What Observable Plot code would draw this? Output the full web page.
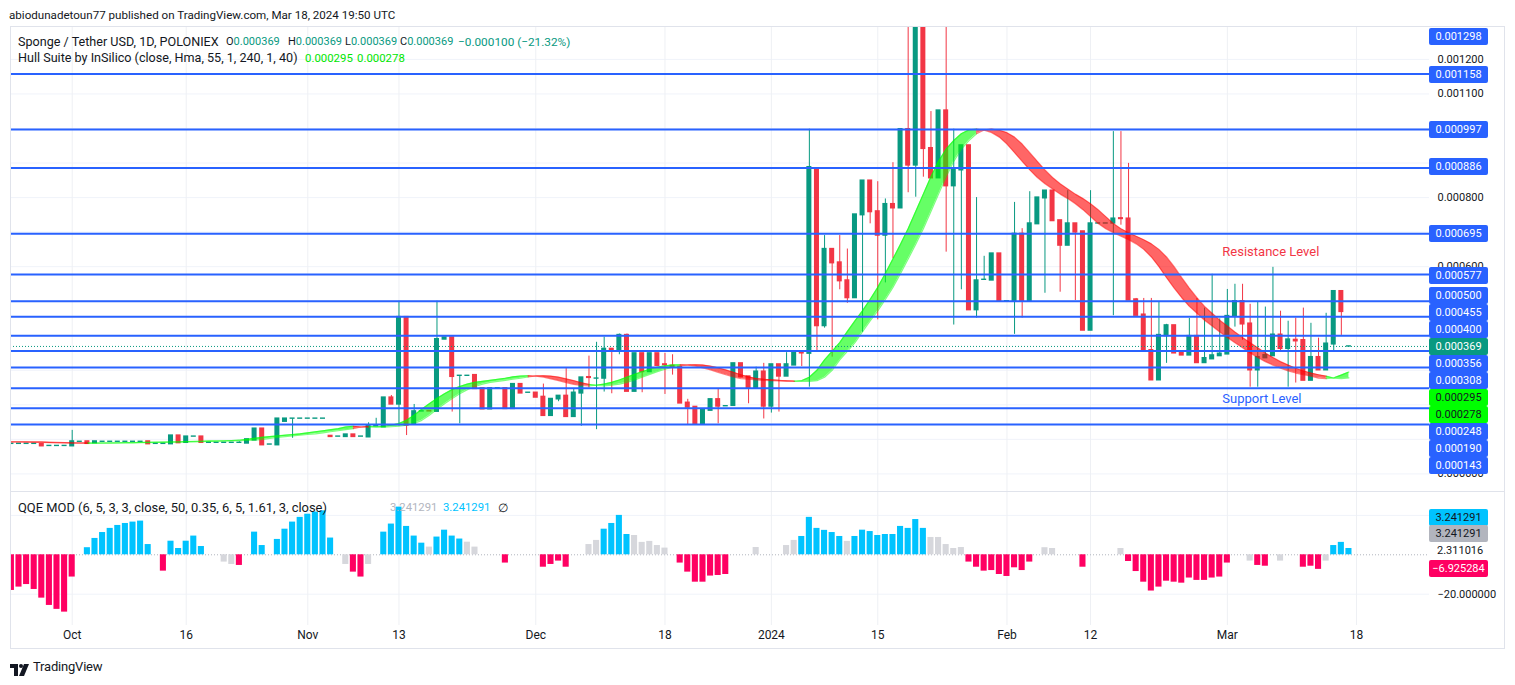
<!DOCTYPE html>
<html><head><meta charset="utf-8">
<script src="https://cdn.jsdelivr.net/npm/d3@7"></script>
<script src="https://cdn.jsdelivr.net/npm/@observablehq/plot@0.6"></script>
<style>
html,body{margin:0;padding:0;background:#fff;}
#root{position:relative;width:1515px;height:685px;overflow:hidden;font-family:Roboto,"Liberation Sans",Arial,sans-serif;color:#131722;background:#fff;}
.t{position:absolute;white-space:nowrap;height:16px;line-height:16px;}
.box{position:absolute;left:1429px;width:59px;height:17px;line-height:17px;font-size:11px;text-align:center;border-radius:2px;white-space:nowrap;}
</style></head><body><div id="root"></div>
<script>
// ---------------- DATA ----------------
const startDate = "2023-09-23";          // first daily candle
const U = 1e-6;                           // arrays below are in millionths of USDT

const openU = [
 87,87,87,87,86,81,81,81,80,93,
 94,89,93,93,93,93,93,93,94,87,
 87,86,111,90,108,108,90,90,90,90,
 90,88,97,131,85,83,151,160,160,160,
 160,160,110,108,107,114,108,106,138,135,
 221,201,454,143,181,182,180,389,395,284,
 284,286,248,187,248,248,188,260,235,235,
 223,168,216,226,165,233,280,276,276,362,
 354,402,238,349,295,349,317,313,310,206,
 194,145,183,216,196,197,320,282,249,296,
 195,317,282,314,351,348,885,428,651,612,
 560,509,749,849,760,690,781,769,998,893,
 1360,943,856,1052,833,879,951,474,562,560,
 638,500,499,695,499,723,798,820,734,661,
 725,702,415,725,725,725,740,739,505,461,
 358,271,399,430,350,343,399,321,332,341,
 346,455,500,435,300,335,341,403,362,388,
 387,270,338,300,375,529,369];
const highU = [
 87,87,87,87,86,81,81,81,126,93,
 94,94,93,93,93,93,93,93,94,87,
 87,111,111,108,108,108,90,90,90,90,
 93,100,131,131,85,160,160,160,160,160,
 160,160,110,108,114,114,108,148,161,221,
 227,500,454,201,181,182,500,395,395,284,
 284,286,248,248,248,248,260,260,235,235,
 260,217,226,305,245,279,341,381,396,362,
 405,405,349,349,349,349,349,345,310,216,
 194,187,216,245,196,320,320,282,309,320,
 317,317,351,351,351,998,885,690,651,690,
 651,751,849,849,846,796,901,998,1400,1500,
 1450,1049,1052,1320,998,951,951,800,630,638,
 638,500,786,710,817,800,820,820,734,820,
 725,702,820,725,725,991,991,899,508,508,
 508,499,433,430,350,450,508,480,578,449,
 534,549,549,491,497,483,598,471,442,451,
 480,436,393,465,529,531,369];
const lowU = [
 87,87,87,87,80,81,81,81,80,93,
 87,89,93,93,93,93,93,93,86,87,
 87,86,89,90,108,90,90,90,90,90,
 90,88,97,83,85,83,151,103,160,160,
 160,160,107,108,107,107,108,106,138,135,
 201,138,111,143,181,181,180,389,179,145,
 284,246,187,187,248,188,188,233,235,221,
 168,168,209,165,165,138,248,128,237,232,
 345,238,238,235,295,313,230,286,204,141,
 145,145,183,145,196,197,280,203,249,159,
 176,179,282,314,311,251,352,422,338,533,
 494,509,410,724,446,553,623,769,814,801,
 859,856,856,642,431,533,474,451,562,560,
 499,500,404,451,499,723,523,732,526,661,
 502,415,415,725,725,458,720,502,458,352,
 271,271,320,349,343,343,321,321,332,341,
 346,425,387,251,251,335,341,352,251,263,
 270,270,300,300,352,401,369];
const closeU = [
 87,87,87,87,80,81,81,81,94,93,
 87,94,93,93,93,93,93,93,86,87,
 87,111,89,108,108,90,90,90,90,90,
 90,100,131,83,85,160,160,160,160,160,
 160,160,107,108,114,107,108,138,138,221,
 201,454,140,181,181,181,390,395,281,284,
 284,246,187,248,248,188,260,233,235,221,
 168,217,226,165,235,279,278,276,362,354,
 402,238,349,295,349,313,315,308,204,192,
 145,187,216,195,196,320,280,249,296,195,
 317,282,317,351,349,888,428,651,610,558,
 509,751,849,758,690,781,769,998,893,1360,
 941,856,1052,833,881,951,474,560,562,638,
 499,500,695,499,725,800,820,732,661,725,
 699,415,725,725,725,739,738,502,458,355,
 271,402,430,349,343,399,321,335,343,348,
 457,500,433,300,338,344,403,362,389,384,
 270,338,300,377,529,469,369];

// Hull Suite (HMA 55) value per day, millionths
const hullU = [
 93,92.5,92,91.5,91,90.5,90,89.6,89.3,89.1,
 89,89.2,89.5,89.8,90.1,90.4,90.7,91,91.3,91.6,
 92,92.5,93,93.5,94,94.5,95,95.5,96,96.7,
 97.5,100,103,106,108,110,112,114,116,119,
 122,125,128,131,136,138,135.5,135,136.5,138,
 141,146,155,170,187,203,218,232,244,253,
 260,265,268,271,274,277,281,283.5,284,283,
 280,275,270,264,259,256,255,257,260,265,
 272,280,288,296,303,309,313,315.5,316,315,
 312,307,301,294,287,281,276,274,272.5,271,
 270,269,268,267.5,270,280,300,330,355,380,
 412,443,472,505,540,580,622,665,710,760,
 810,860,905,940,965,985,996,998,995,988,
 975,955,930,905,880,858,840,825,810,797,
 782,765,745,725,710,698,688,678,666,650,
 628,600,568,538,510,485,465,445,428,411,
 395,380,365,350,337,325,315,306,298,292,
 287,283,277.5,276,278,286,295];

// QQE MOD histogram per day and its colour class (u = above upper band, d = below lower, n = neutral)
const qqeVals = [
 -18.1,-16.4,-15.1,-17.6,-22,-25.7,-27.7,-29.1,-11.3,0,
 3.6,8.3,11.3,13.4,14.9,15.9,16.6,17.1,5.2,0,
 -8.3,6.9,3.2,6.9,9.5,4.2,0,0,-3.7,-4.9,
 -5.4,0,11.5,4.7,0,7.8,13,16.6,19,20.6,
 21.7,22.3,8.5,0,-4.9,-8.8,-11.3,-4.9,0,11.5,
 15.6,24.2,14.4,9.5,5.9,3.9,9,12.5,9.5,8,
 6.4,3.9,0,0,0,-4.2,0,0,0,0,
 -6.3,-4.9,-3.2,-6.3,0,0,5.2,7.3,13,15.9,
 20,10.3,9.8,6.3,6.8,4.7,3.4,0,-4.2,-8.8,
 -13.9,-13.9,-10.8,-10.5,-10,0,0,0,3.7,0,
 0,0,4.7,7.3,9.3,19,13.4,12.4,11.3,9.3,
 6.8,9.3,12.5,11.8,9.8,10.3,10.3,14.4,13.4,17.9,
 13.4,8.8,8.8,5.2,3.2,3.7,-3.7,-6.3,-8.3,-8,
 -10,-11,-6.6,-8,-3.7,0,3.6,3.2,0,0,
 0,-6.3,0,0,0,0,3.2,-3.4,-8.5,-13.9,
 -18.4,-16.4,-13.4,-13.9,-14.4,-11.8,-13,-13,-11.8,-11.3,
 -4.2,0,0,-3.2,-5.4,-5.8,0,-3.2,0,0,
 -6.3,-5.8,-7.4,-3.2,4.7,6.3,3.2];
const qqeClass = (
 "ddddddddd" + "n" + "uuuuuuuuu" + "n" + "d" + "uuuuu" + "nn" + "nn" + "d" + "n" +
 "uu" + "n" + "uuuuuuuu" + "n" + "nddn" + "n" + "uuuuuunuuuunn" + "nnn" + "d" + "nnnn" +
 "dddd" + "nn" + "nnuuuunnnnn" + "n" + "ddddddd" + "nnn" + "n" + "nnn" +
 "nnuuuuuunuuuuuuuuuunnnnn" + "ddddddddd" + "n" + "nn" + "nnn" + "d" + "nnnn" + "n" +
 "dddddddddddddd" + "nn" + "n" + "dd" + "n" + "n" + "nn" + "ddd" + "n" + "uuu").split("");

// Horizontal levels drawn on the chart
const levels = [0.001298, 0.001158, 0.000997, 0.000886, 0.000695, 0.000577, 0.000500, 0.000455,
                0.000400, 0.000356, 0.000308, 0.000248, 0.000190, 0.000143];
const priceTicks = [0, 0.0001, 0.0002, 0.0003, 0.0004, 0.0005, 0.0006, 0.0007, 0.0008, 0.0009, 0.0010, 0.0011, 0.0012];
// tick labels that are not fully covered by the level tags
const priceTickLabels = [0, 0.0006, 0.0008, 0.0009, 0.0011, 0.0012];
const tickDates = ["2023-10-01","2023-10-16","2023-11-01","2023-11-13","2023-12-01","2023-12-18",
                   "2024-01-01","2024-01-15","2024-02-01","2024-02-12","2024-03-01","2024-03-18"];
const tickLabels = ["Oct","16","Nov","13","Dec","18","2024","15","Feb","12","Mar","18"];
const annotations = [{label:"Resistance Level", date:"2024-03-01", level:0.000577},
                     {label:"Support Level", date:"2024-03-01", level:0.000248}];
const qqeTicks = [20, -20];
const qqeTickLabels = [-20];
const qqeLegend = {upper:"3.241291", hist:"3.241291", mid:"2.311016", low:"−6.925284"};

// ---------------- LAYOUT ----------------
const root = document.getElementById("root");
const day = s => Math.round((Date.parse(s) - Date.parse(startDate)) / 864e5);
const tickIdx = tickDates.map(day);
const labelMap = new Map(tickIdx.map((d, k) => [d, tickLabels[k]]));
const xDom = [-0.118, 186.6];
const UP = "#089981", DN = "#f23645";

const candles = openU.map((o, i) => ({i, o: o*U, h: highU[i]*U, l: lowU[i]*U, c: closeU[i]*U}));
const col = d => d.c >= d.o ? UP : DN;
const last = candles[candles.length - 1], prevC = candles[candles.length - 2];

// hull band runs (HULL vs HULL[2])
const prev2 = hullU.map((v, i) => i >= 2 ? hullU[i-2] : v);
const segs = [];
let run = 0, lastUp = null;
for (let i = 1; i < hullU.length; i++) {
  const isUp = hullU[i] > prev2[i];
  if (isUp !== lastUp) { run++; lastUp = isUp; segs.push({x:i-1, a:hullU[i-1]*U, b:prev2[i-1]*U, run, up:isUp}); }
  segs.push({x:i, a:hullU[i]*U, b:prev2[i]*U, run, up:isUp});
}
const gSegs = segs.filter(s => s.up), rSegs = segs.filter(s => !s.up);
const HG = "#00ff00", HR = "#ff0000";

const fmt6 = d3.format(".6f");
const axisStyle = {fontFamily:"Roboto, 'Liberation Sans', sans-serif", fontSize:"11px", color:"#131722", background:"transparent", position:"absolute"};

const price = Plot.plot({
  width:1495, height:465, marginLeft:0, marginRight:76, marginTop:0, marginBottom:0,
  x:{domain:xDom, axis:null, label:null},
  y:{domain:[-0.00005096, 0.00129531], axis:null, label:null},
  color:{type:"identity"},
  style:{...axisStyle, left:"10px", top:"26px"},
  marks:[
    Plot.ruleY(priceTicks, {stroke:"#f0f3fa"}),
    Plot.ruleX(tickIdx, {stroke:"#eef0f4"}),
    Plot.ruleX(candles, {x:"i", y1:"l", y2:"h", stroke:col, strokeWidth:1, clip:true}),
    Plot.rect(candles, {x1:d => d.i - 0.33, x2:d => d.i + 0.33, y1:"o", y2:"c", fill:col, insetTop:-0.7, insetBottom:-0.7, clip:true}),
    Plot.areaY(gSegs, {x:"x", y1:"a", y2:"b", z:"run", fill:HG, fillOpacity:0.6, clip:true}),
    Plot.areaY(rSegs, {x:"x", y1:"a", y2:"b", z:"run", fill:HR, fillOpacity:0.6, clip:true}),
    Plot.line(gSegs, {x:"x", y:"a", z:"run", stroke:HG, strokeOpacity:0.5, strokeWidth:1.2}),
    Plot.line(gSegs, {x:"x", y:"b", z:"run", stroke:HG, strokeOpacity:0.5, strokeWidth:1.2}),
    Plot.line(rSegs, {x:"x", y:"a", z:"run", stroke:HR, strokeOpacity:0.5, strokeWidth:1.2}),
    Plot.line(rSegs, {x:"x", y:"b", z:"run", stroke:HR, strokeOpacity:0.5, strokeWidth:1.2}),
    Plot.ruleY(levels, {stroke:"#2962ff", strokeWidth:2, clip:true}),
    Plot.ruleY([last.c], {stroke:"#089981", strokeWidth:1, strokeDasharray:"1,2"}),
    Plot.text(annotations.slice(0,1), {x:d => day(d.date), y:"level", text:"label", textAnchor:"start", dx:-5, dy:-23, fill:"#f23645", fontSize:13}),
    Plot.text(annotations.slice(1,2), {x:d => day(d.date), y:"level", text:"label", textAnchor:"start", dx:-5, dy:11, fill:"#2962ff", fontSize:13}),
    Plot.axisY({anchor:"right", ticks:priceTickLabels, tickFormat:fmt6, tickSize:0, tickPadding:8, fontSize:11, label:null})
  ]
});
root.appendChild(price);

const qqeRows = qqeVals.map((v, i) => ({i, v, k:qqeClass[i]}));
const qqeCol = {u:"#00c3ff", d:"#ff0062", n:"#d6d7dc"};
const qqe = Plot.plot({
  width:1495, height:156, marginLeft:0, marginRight:76, marginTop:0, marginBottom:23,
  x:{domain:xDom, axis:null, label:null},
  y:{domain:[-35.89, 31.62], axis:null, label:null},
  color:{type:"identity"},
  style:{...axisStyle, left:"10px", top:"492px"},
  marks:[
    Plot.ruleY(qqeTicks, {stroke:"#f0f3fa"}),
    Plot.ruleX(tickIdx, {stroke:"#eef0f4"}),
    Plot.ruleY([0], {stroke:"#b2b5be", strokeDasharray:"1,2"}),
    Plot.rect(qqeRows, {x1:d => d.i - 0.4, x2:d => d.i + 0.4, y1:() => 0, y2:"v", fill:d => qqeCol[d.k]}),
    Plot.axisX({ticks:tickIdx, tickFormat:d => labelMap.get(d), tickSize:0, tickPadding:5, fontSize:12, label:null}),
    Plot.axisY({anchor:"right", ticks:qqeTickLabels, tickFormat:fmt6, tickSize:0, tickPadding:8, fontSize:11, label:null})
  ]
});
root.appendChild(qqe);

// helpers for html text
function txt(html, x, cy, size, color, extra) {
  const el = document.createElement("div");
  el.className = "t";
  el.style.left = x + "px"; el.style.top = (cy - 8) + "px";
  el.style.fontSize = size + "px"; el.style.color = color || "#131722";
  if (extra) Object.assign(el.style, extra);
  el.innerHTML = html;
  root.appendChild(el);
  return el;
}
function box(text, cy, bg, fg) {
  const el = document.createElement("div");
  el.className = "box";
  el.style.top = (cy - 8.5) + "px"; el.style.background = bg; el.style.color = fg;
  el.textContent = text;
  root.appendChild(el);
}

// frame and pane separator
const frame = document.createElement("div");
Object.assign(frame.style, {position:"absolute", left:"10px", top:"26px", width:"1495px", height:"623px", border:"1px solid #e0e3eb", boxSizing:"border-box", pointerEvents:"none"});
root.appendChild(frame);
const sep = document.createElement("div");
Object.assign(sep.style, {position:"absolute", left:"10px", top:"491px", width:"1495px", height:"1px", background:"#e0e3eb"});
root.appendChild(sep);

// header
txt("abiodunadetoun77 published on TradingView.com, Mar 18, 2024 19:50 UTC", 9, 15, 11.6);
const chg = last.c - prevC.c, pct = chg / prevC.c * 100;
const TEAL = "#089981";
txt("Sponge / Tether USD, 1D, POLONIEX", 18, 42, 12.6);
const ohlcX = [226, 288, 345, 400];
["O","H","L","C"].forEach((k, j) => {
  const v = [last.o, last.h, last.l, last.c][j];
  txt(`${k}<span style="color:${TEAL}">${fmt6(v)}</span>`, ohlcX[j], 42, 11);
});
txt(`${(chg<0?"−":"+") + fmt6(Math.abs(chg))} (${(pct<0?"−":"+") + Math.abs(pct).toFixed(2)}%)`, 458, 42, 11.8, TEAL);
txt("Hull Suite by InSilico (close, Hma, 55, 1, 240, 1, 40)", 18, 58, 12.6);
txt(fmt6(hullU[hullU.length-1]*U), 305, 58, 11.4, "#00e600");
txt(fmt6(prev2[prev2.length-1]*U), 357, 58, 11.4, "#00e600");

// price labels stacked on the right axis
const labelSlots = [36, 74, 129, 166.7, 233.3, 275, 295.7, 312.7, 329.3, 346, 363.3, 380, 397.3, 414.3, 431.7, 448.3, 465];
const plabels = levels.map(v => ({v, bg:"#2962ff", fg:"#fff"}))
  .concat([{v:last.c, bg:"#089981", fg:"#fff"},
           {v:hullU[hullU.length-1]*U, bg:"#00ff00", fg:"#131722"},
           {v:prev2[prev2.length-1]*U, bg:"#00ff00", fg:"#131722"}])
  .sort((a, b) => b.v - a.v);
plabels.forEach((p, k) => box(fmt6(p.v), labelSlots[k], p.bg, p.fg));

// QQE legend + labels
txt(`QQE MOD (6, 5, 3, 3, close, 50, 0.35, 6, 5, 1.61, 3, close)`, 18, 508, 12.9);
txt(qqeLegend.hist, 390, 508, 11.3, "#b2b5be");
txt(qqeLegend.upper, 443, 508, 11.3, "#00c3ff");
txt("∅", 498, 508, 12);
box(qqeLegend.upper, 517, "#00c3ff", "#131722");
box(qqeLegend.hist, 533, "#b2b5be", "#131722");
txt(qqeLegend.mid, 1437, 550.7, 11);
box(qqeLegend.low, 568, "#ff0062", "#fff");

// footer
const logo = document.createElement("div");
Object.assign(logo.style, {position:"absolute", left:"10px", top:"661px", width:"20px", height:"12px"});
logo.innerHTML = `<svg width="20" height="12" viewBox="0 0 20 12" style="position:static"><path d="M0 0h8v12H4V4H0z" fill="#131722"/><circle cx="11" cy="2" r="2" fill="#131722"/><path d="M14 0h5l-5 12h-5z" fill="#131722"/></svg>`;
root.appendChild(logo);
txt("TradingView", 33, 667, 13, "#131722", {letterSpacing:"-0.2px"});
</script></body></html>
